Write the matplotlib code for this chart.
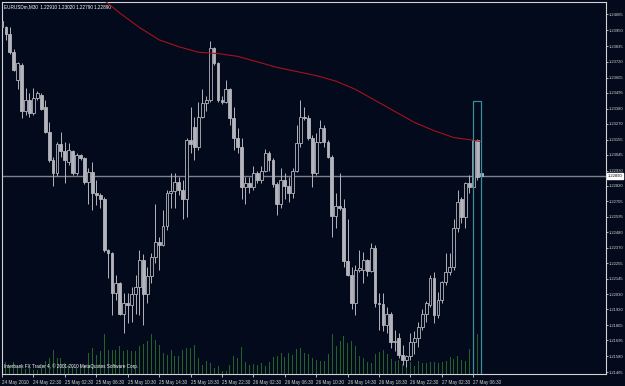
import matplotlib
matplotlib.use('Agg')
import matplotlib.pyplot as plt
from matplotlib.patches import Rectangle
import numpy as np

# ---------------- data ----------------
opens = [1.2402, 1.2397, 1.2392, 1.2379, 1.2359, 1.2370, 1.2336, 1.2344, 1.2335, 1.2346,
         1.2348, 1.2339, 1.2321, 1.2301, 1.2291, 1.2312, 1.2307, 1.2299, 1.2307, 1.2291,
         1.2304, 1.2302, 1.2285, 1.2292, 1.2277, 1.2275, 1.2272, 1.2235, 1.2233, 1.2204,
         1.2211, 1.2189, 1.2197, 1.2195, 1.2203, 1.2208, 1.2228, 1.2203, 1.2216, 1.2230,
         1.2241, 1.2239, 1.2253, 1.2277, 1.2278, 1.2285, 1.2279, 1.2272, 1.2315, 1.2325,
         1.2310, 1.2332, 1.2342, 1.2344, 1.2382, 1.2371, 1.2344, 1.2343, 1.2352, 1.2331,
         1.2317, 1.2310, 1.2281, 1.2284, 1.2281, 1.2291, 1.2286, 1.2293, 1.2306, 1.2301,
         1.2283, 1.2269, 1.2286, 1.2282, 1.2277, 1.2293, 1.2313, 1.2332, 1.2331, 1.2317,
         1.2291, 1.2314, 1.2324, 1.2314, 1.2303, 1.2260, 1.2267, 1.2266, 1.2227, 1.2217,
         1.2197, 1.2221, 1.2221, 1.2228, 1.2220, 1.2237, 1.2197, 1.2196, 1.2181, 1.2189,
         1.2168, 1.2171, 1.2159, 1.2155, 1.2158, 1.2168, 1.2171, 1.2179, 1.2189, 1.2195,
         1.2215, 1.2188, 1.2199, 1.2212, 1.2219, 1.2223, 1.2251, 1.2272, 1.2259, 1.2284,
         1.2281, 1.2315, 1.2291]
highs = [1.2405, 1.2398, 1.2397, 1.2381, 1.2372, 1.2371, 1.2353, 1.2349, 1.2353, 1.2351,
         1.2349, 1.2344, 1.2328, 1.2303, 1.2314, 1.2321, 1.2314, 1.2313, 1.2308, 1.2306,
         1.2305, 1.2303, 1.2295, 1.2299, 1.2286, 1.2277, 1.2274, 1.2236, 1.2234, 1.2217,
         1.2212, 1.2204, 1.2204, 1.2208, 1.2217, 1.2235, 1.2232, 1.2223, 1.2233, 1.2269,
         1.2245, 1.2264, 1.2279, 1.2291, 1.2291, 1.2288, 1.2286, 1.2317, 1.2339, 1.2332,
         1.2343, 1.2352, 1.2347, 1.2387, 1.2383, 1.2372, 1.2347, 1.2359, 1.2353, 1.2339,
         1.2324, 1.2317, 1.2288, 1.2288, 1.2296, 1.2293, 1.2296, 1.2309, 1.2307, 1.2302,
         1.2285, 1.2295, 1.2291, 1.2288, 1.2295, 1.2326, 1.2344, 1.2339, 1.2333, 1.2319,
         1.2320, 1.2330, 1.2326, 1.2315, 1.2304, 1.2277, 1.2291, 1.2272, 1.2258, 1.2223,
         1.2224, 1.2235, 1.2234, 1.2229, 1.2240, 1.2239, 1.2204, 1.2204, 1.2194, 1.2190,
         1.2177, 1.2175, 1.2166, 1.2159, 1.2175, 1.2176, 1.2183, 1.2192, 1.2198, 1.2217,
         1.2219, 1.2205, 1.2213, 1.2233, 1.2233, 1.2258, 1.2279, 1.2274, 1.2285, 1.2290,
         1.2317, 1.2316, 1.2302]
lows = [1.2396, 1.2388, 1.2378, 1.2365, 1.2352, 1.2331, 1.2333, 1.2332, 1.2333, 1.2344,
        1.2337, 1.2320, 1.2299, 1.2282, 1.2289, 1.2303, 1.2284, 1.2297, 1.2290, 1.2290,
        1.2301, 1.2283, 1.2269, 1.2264, 1.2268, 1.2266, 1.2234, 1.2215, 1.2188, 1.2199,
        1.2188, 1.2175, 1.2182, 1.2183, 1.2189, 1.2188, 1.2181, 1.2197, 1.2211, 1.2226,
        1.2221, 1.2238, 1.2250, 1.2266, 1.2266, 1.2275, 1.2258, 1.2259, 1.2306, 1.2301,
        1.2308, 1.2331, 1.2336, 1.2343, 1.2370, 1.2343, 1.2341, 1.2342, 1.2326, 1.2308,
        1.2306, 1.2272, 1.2269, 1.2277, 1.2279, 1.2284, 1.2284, 1.2292, 1.2293, 1.2281,
        1.2261, 1.2266, 1.2272, 1.2270, 1.2273, 1.2292, 1.2310, 1.2330, 1.2315, 1.2281,
        1.2290, 1.2313, 1.2310, 1.2302, 1.2245, 1.2251, 1.2264, 1.2223, 1.2216, 1.2192,
        1.2188, 1.2219, 1.2211, 1.2216, 1.2219, 1.2194, 1.2177, 1.2176, 1.2175, 1.2164,
        1.2162, 1.2157, 1.2152, 1.2150, 1.2155, 1.2160, 1.2165, 1.2177, 1.2183, 1.2194,
        1.2182, 1.2186, 1.2197, 1.2210, 1.2217, 1.2221, 1.2248, 1.2255, 1.2251, 1.2277,
        1.2277, 1.2286, 1.2279]
closes = [1.2397, 1.2392, 1.2379, 1.2366, 1.2371, 1.2336, 1.2344, 1.2335, 1.2346, 1.2349,
          1.2338, 1.2321, 1.2301, 1.2291, 1.2312, 1.2307, 1.2301, 1.2308, 1.2291, 1.2304,
          1.2302, 1.2285, 1.2292, 1.2277, 1.2275, 1.2272, 1.2235, 1.2233, 1.2204, 1.2211,
          1.2189, 1.2197, 1.2195, 1.2203, 1.2208, 1.2228, 1.2203, 1.2216, 1.2230, 1.2241,
          1.2239, 1.2253, 1.2277, 1.2278, 1.2285, 1.2279, 1.2272, 1.2315, 1.2312, 1.2310,
          1.2332, 1.2342, 1.2344, 1.2382, 1.2371, 1.2344, 1.2343, 1.2352, 1.2331, 1.2317,
          1.2310, 1.2281, 1.2284, 1.2281, 1.2291, 1.2286, 1.2293, 1.2306, 1.2301, 1.2283,
          1.2269, 1.2286, 1.2282, 1.2277, 1.2293, 1.2313, 1.2332, 1.2331, 1.2317, 1.2291,
          1.2314, 1.2324, 1.2314, 1.2303, 1.2260, 1.2267, 1.2266, 1.2227, 1.2217, 1.2197,
          1.2221, 1.2222, 1.2228, 1.2220, 1.2237, 1.2197, 1.2196, 1.2181, 1.2189, 1.2168,
          1.2169, 1.2159, 1.2155, 1.2158, 1.2168, 1.2171, 1.2179, 1.2189, 1.2197, 1.2215,
          1.2188, 1.2199, 1.2212, 1.2219, 1.2223, 1.2251, 1.2270, 1.2259, 1.2284, 1.2281,
          1.2315, 1.2288, 1.2289]
volumes = [300, 360, 240, 360, 240, 180, 150, 210, 120, 120, 180,
           390, 480, 720, 480, 480, 330, 270, 240, 180, 270,
           240, 630, 780, 570, 690, 1200, 720, 720, 720, 840,
           690, 720, 690, 690, 840, 900, 990, 1200, 1020, 870,
           630, 570, 720, 540, 540, 720, 780, 780, 870, 480,
           270, 390, 330, 180, 240, 90, 90, 270, 540, 480,
           810, 360, 270, 300, 270, 330, 240, 360, 510, 540,
           630, 510, 630, 570, 750, 780, 630, 600, 480, 420,
           390, 390, 600, 1200, 840, 990, 1140, 930, 990, 840, 540,
           480, 360, 330, 600, 660, 720, 600, 450, 390, 420,
           300, 390, 360, 240, 390, 330, 330, 360, 360, 330, 360,
           390, 510, 450, 540, 420, 390, 750, 1140, 1200, 240]
ma_bars = [25, 30, 35, 40, 45, 50, 55, 60, 65, 70, 75, 80, 85, 90, 95, 100, 105, 110, 115, 120, 122]
ma_vals = [1.2419, 1.24075, 1.2397, 1.2388, 1.2383, 1.2379, 1.2378, 1.2376, 1.2372, 1.2368,
           1.2365, 1.2362, 1.2358, 1.2352, 1.2344, 1.2336, 1.2328, 1.2322, 1.2317, 1.2315, 1.2314]
price_ticks = [1.24065, 1.23950, 1.23835, 1.23720, 1.23605, 1.23495, 1.23380, 1.23270,
               1.23155, 1.23045, 1.22930, 1.22820, 1.22705, 1.22595, 1.22480, 1.22370,
               1.22255, 1.22145, 1.22030, 1.21920, 1.21805, 1.21695, 1.21580, 1.21465]
time_tick_bars = [0, 8, 16, 24, 32, 40, 48, 56, 64, 72, 80, 88, 96, 104, 112, 120]
time_labels = ['24 May 2010', '24 May 22:30', '25 May 02:30', '25 May 06:30', '25 May 10:30',
               '25 May 14:30', '25 May 18:30', '25 May 22:30', '26 May 02:30', '26 May 06:30',
               '26 May 10:30', '26 May 14:30', '26 May 18:30', '26 May 22:30', '27 May 02:30',
               '27 May 06:30']
current_price = 1.22890
box_bars = [120, 122]
box_top = 1.23436
box_bottom = 1.2100
title = 'EURUSDm,M30  1.22910 1.23020 1.22790 1.22890'
footer = 'Interbank FX Trader 4, \u00a9 2001-2010 MetaQuotes Software Corp.'

# ---------------- style ----------------
BG = '#030a1b'
FG = '#d2d2d2'
CANDLE = '#b4b4bc'
VOL = '#24622a'
MA = '#a5121c'
BOX = '#3e8c9a'
FONT = 'Liberation Sans'
FS = 3.3
FSY = 2.95

W, H = 625, 386
L, R, T, B = 2, 606, 2, 374
fig = plt.figure(figsize=(W / 100, H / 100), dpi=100, facecolor=BG)
pos = [L / W, 1 - B / H, (R - L) / W, (B - T) / H]
XL = (0.13, 153.8)
YL = (1.21451, 1.24155)

axv = fig.add_axes(pos, facecolor=BG)
axv.set_axis_off()
ax = fig.add_axes(pos, facecolor='none')

idx = np.arange(len(closes))
axv.vlines(idx, 0, volumes, colors=VOL, lw=0.72, antialiased=False)
axv.set_xlim(*XL)
axv.set_ylim(0, max(volumes) * (B - T) / 40.0)

o = np.array(opens); c = np.array(closes)
ax.vlines(idx, lows, highs, colors=CANDLE, lw=0.7, zorder=2)
bull = c >= o
hgt = np.maximum(np.abs(c - o), 0.00003)
bot = np.minimum(o, c)
ax.bar(idx[bull], hgt[bull], bottom=bot[bull], width=0.72, facecolor=BG,
       edgecolor=CANDLE, lw=0.6, zorder=3)
ax.bar(idx[~bull], hgt[~bull], bottom=bot[~bull], width=0.72, facecolor=CANDLE,
       edgecolor=CANDLE, lw=0.6, zorder=3)

ax.plot(ma_bars, ma_vals, color=MA, lw=0.8, zorder=4)
ax.axhline(current_price, color='#80808c', lw=1.0, zorder=1)
ax.add_patch(Rectangle((box_bars[0], box_bottom), box_bars[1] - box_bars[0],
                       box_top - box_bottom, fill=False, edgecolor=BOX, lw=0.9, zorder=5))

ax.set_xlim(*XL)
ax.set_ylim(*YL)
for s in ax.spines.values():
    s.set_color(FG)
    s.set_linewidth(0.8)

ax.yaxis.tick_right()
ax.set_yticks(price_ticks)
ax.set_yticklabels(['%.5f' % v for v in price_ticks], fontsize=FSY, family=FONT, color=FG)
ax.tick_params(axis='y', colors=FG, length=1.5, width=0.6, pad=0.6)
ax.set_xticks(time_tick_bars)
ax.set_xticklabels(time_labels, fontsize=FS, family=FONT, color=FG, ha='left')
ax.tick_params(axis='x', colors=FG, length=2.5, width=0.6, pad=1.5)

ax.text(1.0 + 1.6 / (R - L), current_price, '%.5f' % current_price, transform=ax.get_yaxis_transform(),
        fontsize=FSY, family=FONT, color='black', va='center', ha='left', zorder=6,
        bbox=dict(boxstyle='square,pad=0.2', facecolor='white', edgecolor='white'))

ax.text(2 / (R - L), 1 - 4.5 / (B - T), title, transform=ax.transAxes, fontsize=FS,
        family=FONT, color='white', va='center', ha='left')
ax.text(2 / (R - L), 8 / (B - T), footer, transform=ax.transAxes, fontsize=FS,
        family=FONT, color='white', va='center', ha='left')

fig.savefig('out.png', dpi=100, facecolor=BG)
